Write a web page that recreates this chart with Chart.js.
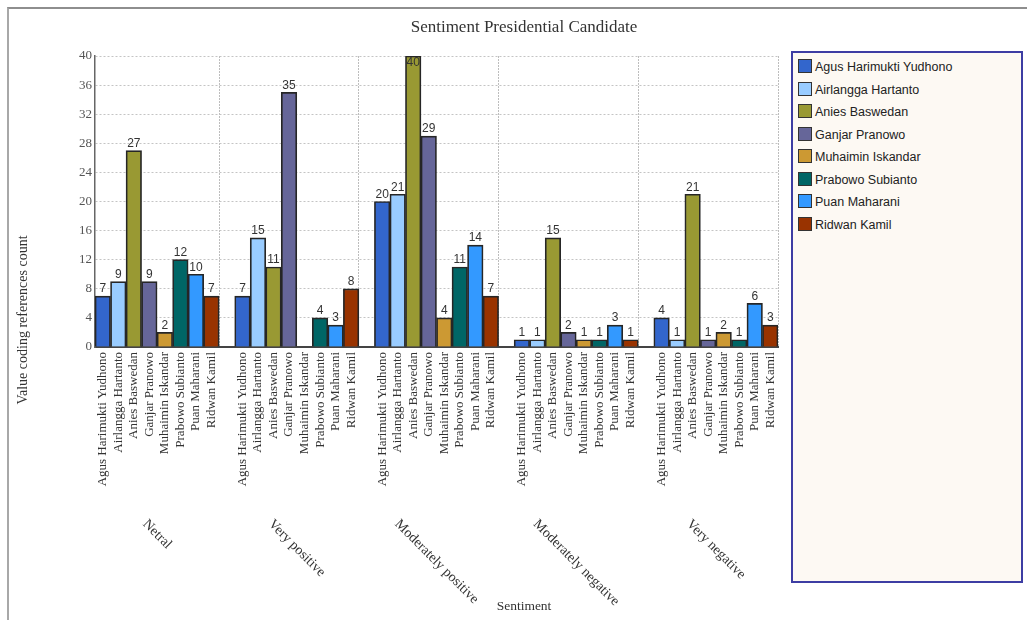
<!DOCTYPE html>
<html lang="en">
<head>
    <meta charset="UTF-8">
    <title>Sentiment Presidential Candidate</title>
    <script src="https://cdn.jsdelivr.net/npm/chart.js"></script>
    <style>
        body { margin: 0; background: #fff; overflow: hidden; width: 1027px; height: 620px; position: relative; }
        .frame { position: absolute; left: 7px; top: 7px; width: 1040px; height: 640px;
                 border-left: 2px solid #a8a8a8; border-top: 2px solid #8e8e8e; }
        #chart { position: absolute; left: 8px; top: 0; }
        .legend { position: absolute; left: 791px; top: 51px; width: 232px; height: 532px;
                  background: #fdf9f3; border: 2px solid #3d3da3; box-sizing: border-box;
                  font-family: "Liberation Sans", Arial, sans-serif; font-size: 12.5px; color: #222; }
        .legend .item { position: absolute; left: 5px; height: 16px; line-height: 16px; white-space: nowrap; }
        .legend .swatch { display: inline-block; width: 14px; height: 14px; border: 1px solid #333;
                          vertical-align: top; margin-right: 3px; box-sizing: border-box; }
    </style>
</head>
<body>
    <div class="frame"></div>
    <canvas id="chart" width="1032" height="620"></canvas>
    <div class="legend" id="legend"></div>
    <script>
        // sentiment groups along the x axis
        const sentiments = ['Netral', 'Very positive', 'Moderately positive', 'Moderately negative', 'Very negative'];
        const candidates = ['Agus Harimukti Yudhono', 'Airlangga Hartanto', 'Anies Baswedan', 'Ganjar Pranowo',
                            'Muhaimin Iskandar', 'Prabowo Subianto', 'Puan Maharani', 'Ridwan Kamil'];

        // counts per sentiment (same order as sentiments)
        const agus      = [7, 7, 20, 1, 4];
        const airlangga = [9, 15, 21, 1, 1];
        const anies     = [27, 11, 40, 15, 21];
        const ganjar    = [9, 35, 29, 2, 1];
        const muhaimin  = [2, null, 4, 1, 2];
        const prabowo   = [12, 4, 11, 1, 1];
        const puan      = [10, 3, 14, 3, 6];
        const ridwan    = [7, 8, 7, 1, 3];

        const yTicks = [0, 4, 8, 12, 16, 20, 24, 28, 32, 36, 40];

        const series = [agus, airlangga, anies, ganjar, muhaimin, prabowo, puan, ridwan];
        const colors = ['#3366cc', '#99ccff', '#999933', '#666699', '#cc9933', '#006666', '#3399ff', '#993300'];

        // one slot per bar, plus an empty slot between sentiment groups
        const slotsPerGroup = candidates.length + 1;
        const labels = [];
        sentiments.forEach((s, g) => {
            candidates.forEach(c => labels.push(c));
            if (g < sentiments.length - 1) labels.push('');
        });
        const dividers = sentiments.slice(0, -1).map((s, g) => g * slotsPerGroup + candidates.length);

        const datasets = candidates.map((name, c) => {
            const data = labels.map(() => null);
            sentiments.forEach((s, g) => { data[g * slotsPerGroup + c] = series[c][g]; });
            return {
                label: name,
                data: data,
                backgroundColor: colors[c],
                borderColor: '#262626',
                borderWidth: 1.7,
                grouped: false,
                barPercentage: 1,
                categoryPercentage: 1
            };
        });

        // legend box
        const legend = document.getElementById('legend');
        candidates.forEach((name, c) => {
            const item = document.createElement('div');
            item.className = 'item';
            item.style.top = (6 + c * 22.5) + 'px';
            item.innerHTML = '<span class="swatch" style="background:' + colors[c] + '"></span>' + name;
            legend.appendChild(item);
        });

        const serif = '"Liberation Serif", "Times New Roman", serif';

        const extras = {
            id: 'extras',
            afterDatasetsDraw(chart) {
                const ctx = chart.ctx;
                const area = chart.chartArea;
                ctx.save();
                ctx.font = '12px "Liberation Sans", Arial, sans-serif';
                ctx.fillStyle = '#333';
                ctx.textAlign = 'center';
                chart.data.datasets.forEach((ds, i) => {
                    chart.getDatasetMeta(i).data.forEach((bar, j) => {
                        const v = ds.data[j];
                        if (v === null) return;
                        if (bar.y - 14 < area.top) {
                            ctx.textBaseline = 'top';
                            ctx.fillText(v, bar.x, bar.y + 1);
                        } else {
                            ctx.textBaseline = 'bottom';
                            ctx.fillText(v, bar.x, bar.y - 1);
                        }
                    });
                });
                ctx.restore();
            },
            afterDraw(chart) {
                const ctx = chart.ctx;
                const x = chart.scales.x;
                ctx.save();
                ctx.fillStyle = '#333';
                ctx.textAlign = 'center';
                ctx.textBaseline = 'middle';
                // chart title, centred on the whole frame
                ctx.font = '17px ' + serif;
                ctx.fillText('Sentiment Presidential Candidate', 516, 28);
                // sentiment names, slanted under each group
                ctx.font = '14px ' + serif;
                sentiments.forEach((s, g) => {
                    const first = x.getPixelForValue(g * slotsPerGroup);
                    const last = x.getPixelForValue(g * slotsPerGroup + candidates.length - 1);
                    const w = ctx.measureText(s).width;
                    ctx.save();
                    ctx.translate((first + last) / 2, 522 + w * 0.707 / 2);
                    ctx.rotate(Math.PI / 4);
                    ctx.fillText(s, 0, 0);
                    ctx.restore();
                });
                // axis titles
                ctx.font = '13.5px ' + serif;
                ctx.fillText('Sentiment', 516, 606);
                ctx.font = '14px ' + serif;
                ctx.translate(15, 320);
                ctx.rotate(-Math.PI / 2);
                ctx.fillText('Value coding references count', 0, 0);
                ctx.restore();
            }
        };

        new Chart(document.getElementById('chart'), {
            type: 'bar',
            data: { labels: labels, datasets: datasets },
            plugins: [extras],
            options: {
                responsive: false,
                animation: false,
                layout: { padding: { left: 0, right: 262, top: 56, bottom: 0 } },
                plugins: {
                    legend: { display: false },
                    tooltip: { enabled: false },
                    title: { display: false }
                },
                scales: {
                    x: {
                        afterFit(scale) { scale.height = 273; },
                        grid: {
                            drawTicks: false,
                            color: ctx => (ctx.index === undefined || dividers.includes(ctx.index)) ? '#bdbdbd' : 'rgba(0,0,0,0)',
                            lineWidth: 1
                        },
                        border: { color: '#444', width: 2, dash: [2, 1] },
                        ticks: {
                            autoSkip: false,
                            maxRotation: 90,
                            minRotation: 90,
                            padding: 5,
                            color: '#333',
                            font: { family: serif, size: 13 }
                        }
                    },
                    y: {
                        min: 0,
                        max: 40,
                        afterFit(scale) { scale.width = 87; },
                        grid: { drawTicks: false, color: '#c4c4c4', lineWidth: 1 },
                        border: { color: '#666', width: 1.5, dash: [2, 2] },
                        ticks: {
                            stepSize: 2,
                            padding: 3,
                            color: '#555',
                            font: { family: serif, size: 13 },
                            callback: v => yTicks.includes(v) ? v : ''
                        }
                    }
                }
            }
        });
    </script>
</body>
</html>
